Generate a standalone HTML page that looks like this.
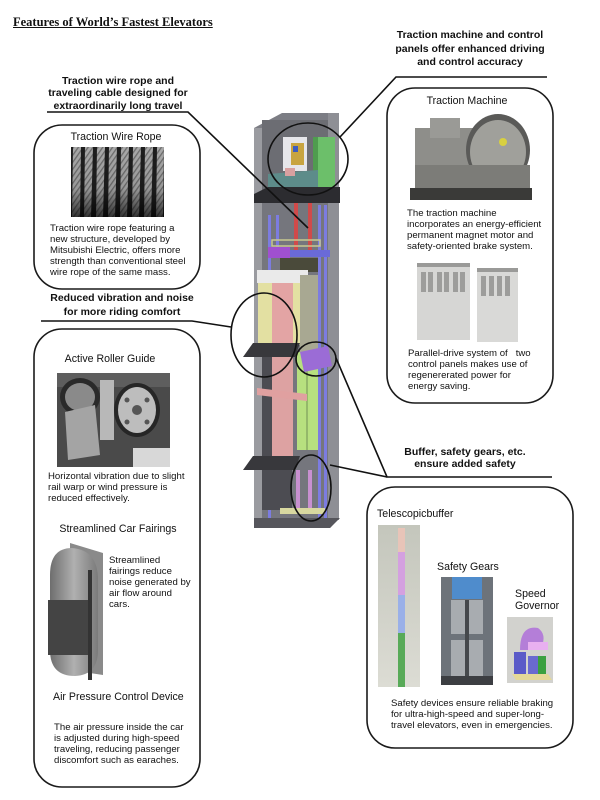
<!DOCTYPE html>
<html><head><meta charset="utf-8">
<style>
html,body{margin:0;padding:0;background:#fff;}
#w{position:relative;width:600px;height:800px;overflow:hidden;background:#fff;font-family:"Liberation Sans",Arial,sans-serif;color:#111;}
svg{position:absolute;left:0;top:0;}
.t{position:absolute;white-space:nowrap;}
.h{font-weight:bold;font-size:10.5px;text-align:center;width:200px;}
.bt{font-size:10.6px;line-height:14px;}
.b{font-size:9.6px;line-height:11px;}
</style></head><body><div id="w">
<svg width="600" height="800" viewBox="0 0 600 800">
<defs>
<linearGradient id="ropeShade" x1="0" y1="0" x2="0" y2="1"><stop offset="0" stop-color="#000" stop-opacity="0"/><stop offset="0.6" stop-color="#000" stop-opacity="0.1"/><stop offset="1" stop-color="#000" stop-opacity="0.7"/></linearGradient>
<linearGradient id="bufbg" x1="0" y1="0" x2="0" y2="1"><stop offset="0" stop-color="#c4c6bc"/><stop offset="1" stop-color="#dcdcd4"/></linearGradient>
<linearGradient id="fair" x1="0" y1="0" x2="1" y2="0"><stop offset="0" stop-color="#6e6e6e"/><stop offset="0.5" stop-color="#b0b0b0"/><stop offset="1" stop-color="#7a7a7a"/></linearGradient>
<pattern id="hatch" width="4" height="4" patternUnits="userSpaceOnUse" patternTransform="rotate(35)"><rect width="4" height="4" fill="#a8a8a8"/><rect width="1.3" height="4" fill="#6e6e6e"/></pattern>
</defs>

<!-- ===== elevator shaft ===== -->
<polygon points="254,128 282,113 339,113 339,518 330,528 254,528" fill="#7c7d84"/>
<rect x="254" y="128" width="8" height="392" fill="#9a9ba0"/>
<rect x="328" y="113" width="11" height="407" fill="#8e8f95"/>
<rect x="262" y="120" width="66" height="70" fill="#6c6d73"/>
<rect x="283" y="137" width="24" height="34" fill="#e6e6ea"/>
<rect x="291" y="143" width="13" height="22" fill="#c8a440"/>
<rect x="293" y="146" width="5" height="6" fill="#3c5cc0"/>
<rect x="313" y="137" width="22" height="55" fill="#6cbf6a"/>
<rect x="313" y="137" width="5" height="55" fill="#4f9c4f"/>
<polygon points="268,174 318,170 318,190 268,192" fill="#5d8c8a"/>
<rect x="285" y="168" width="10" height="8" fill="#d8a0a0"/>
<polygon points="254,194 268,187 340,187 340,203 254,203" fill="#2c2c30"/>
<rect x="262" y="203" width="66" height="315" fill="#75767d"/>
<rect x="294" y="203" width="4" height="47" fill="#d04a4a"/>
<rect x="308" y="203" width="4" height="47" fill="#d04a4a"/>
<rect x="268" y="215" width="3" height="303" fill="#7c7ce0"/>
<rect x="276" y="215" width="3" height="40" fill="#7c7ce0"/>
<rect x="318" y="205" width="3" height="313" fill="#7c7ce0"/>
<rect x="324" y="205" width="3" height="313" fill="#7c7ce0"/>
<rect x="272" y="240" width="48" height="6" fill="none" stroke="#c8c890" stroke-width="1.5"/>
<rect x="268" y="247" width="22" height="11" fill="#a050d0"/>
<rect x="290" y="250" width="40" height="7" fill="#6a6ad8"/>
<rect x="280" y="258" width="38" height="14" fill="#4a4a3a"/>
<polygon points="257,270 308,270 308,283 257,283" fill="#eaeaea"/>
<rect x="258" y="283" width="14" height="62" fill="#e3e0a2"/>
<rect x="272" y="283" width="21" height="64" fill="#e3a4a4"/>
<rect x="293" y="283" width="7" height="62" fill="#e3e0a2"/>
<rect x="300" y="275" width="18" height="77" fill="#a8a892"/>
<rect x="262" y="357" width="10" height="100" fill="#4c4c52"/>
<rect x="272" y="357" width="21" height="108" fill="#dda2a2"/>
<rect x="297" y="352" width="21" height="98" fill="#b7e07f"/>
<rect x="306" y="352" width="2" height="98" fill="#94b86a"/>
<polygon points="300,352 328,346 332,366 304,372" fill="#9b6cd6"/>
<polygon points="257,388 307,394 307,401 257,395" fill="#e0a0a0"/>
<polygon points="253,343 300,343 295,357 243,357" fill="#38383c"/>
<polygon points="253,456 300,456 295,470 243,470" fill="#38383c"/>
<rect x="262" y="470" width="30" height="40" fill="#4c4c52"/>
<rect x="296" y="470" width="4" height="40" fill="#c890d0"/>
<rect x="308" y="470" width="4" height="40" fill="#c890d0"/>
<rect x="280" y="508" width="45" height="6" fill="#d8d8a0"/>
<polygon points="254,518 340,518 330,528 254,528" fill="#56565c"/>

<!-- circles -->
<g fill="none" stroke="#111" stroke-width="1.6">
<ellipse cx="308" cy="159" rx="40" ry="36"/>
<ellipse cx="264" cy="335" rx="33" ry="42"/>
<ellipse cx="316" cy="359" rx="20" ry="17"/>
<ellipse cx="311" cy="488" rx="20" ry="33"/>
</g>
<!-- callout lines -->
<g fill="none" stroke="#111" stroke-width="1.6">
<polyline points="47,112 188,112 308,228"/>
<polyline points="547,77 396,77 340,137"/>
<polyline points="41,321 192,321 231,327"/>
<polyline points="552,477 387,477 336,358"/>
<line x1="387" y1="477" x2="330" y2="465"/>
</g>

<!-- boxes -->
<g fill="none" stroke="#1a1a1a" stroke-width="1.6">
<rect x="34" y="125" width="166" height="164" rx="28"/>
<rect x="34" y="329" width="166" height="458" rx="28"/>
<rect x="387" y="88" width="166" height="315" rx="28"/>
<rect x="367" y="487" width="206" height="261" rx="28"/>
</g>

<!-- wire rope image -->
<rect x="71" y="147" width="93" height="70" fill="#1e1e1e"/>
<g fill="url(#hatch)">
<polygon points="73,147 81,147 80,217 72,217"/>
<polygon points="85,147 93,147 91,217 84,217"/>
<polygon points="97,147 105,147 103,217 96,217"/>
<polygon points="109,147 117,147 115,217 108,217"/>
<polygon points="121,147 129,147 127,217 120,217"/>
<polygon points="133,147 141,147 139,217 132,217"/>
<polygon points="145,147 153,147 151,217 144,217"/>
<polygon points="157,147 164,147 163,217 156,217"/>
</g>
<rect x="71" y="147" width="93" height="70" fill="url(#ropeShade)"/>

<!-- roller guide image -->
<rect x="57" y="373" width="113" height="94" fill="#4a4a4a"/>
<rect x="57" y="373" width="113" height="14" fill="#5e5e5e"/>
<ellipse cx="80" cy="397" rx="20" ry="19" fill="#2a2a2a"/>
<ellipse cx="80" cy="397" rx="15" ry="14" fill="#8a8a8a"/>
<rect x="100" y="380" width="14" height="60" fill="#b8b8b8"/>
<ellipse cx="137" cy="410" rx="23" ry="27" fill="#262626"/>
<ellipse cx="137" cy="410" rx="19" ry="23" fill="#bdbdbd"/>
<circle cx="137" cy="410" r="5" fill="#555"/>
<circle cx="127" cy="400" r="2.5" fill="#555"/><circle cx="147" cy="400" r="2.5" fill="#555"/><circle cx="127" cy="422" r="2.5" fill="#555"/><circle cx="147" cy="422" r="2.5" fill="#555"/>
<polygon points="65,412 95,405 100,455 68,460" fill="#a4a4a4"/>
<rect x="133" y="448" width="37" height="19" fill="#d8d8d8"/>

<!-- fairing image -->
<polygon points="70,543 103,553 103,675 70,670" fill="#8a8a8a"/>
<path d="M50,575 Q50,548 72,548 Q98,550 98,580 L98,650 Q98,675 75,676 Q50,676 50,650 Z" fill="url(#fair)"/>
<rect x="48" y="600" width="44" height="55" fill="#444"/>
<rect x="88" y="570" width="4" height="110" fill="#333"/>

<!-- traction machine image -->
<rect x="415" y="128" width="60" height="62" fill="#8e8e8a"/>
<ellipse cx="498" cy="150" rx="32" ry="36" fill="#5a5a58"/>
<ellipse cx="498" cy="152" rx="28" ry="32" fill="#a0a09b"/>
<rect x="430" y="118" width="30" height="20" fill="#9a9a96"/>
<circle cx="503" cy="142" r="4" fill="#d8d040"/>
<rect x="415" y="165" width="115" height="24" fill="#7c7c78"/>
<rect x="410" y="188" width="122" height="12" fill="#3a3a38"/>

<!-- control panels image -->
<rect x="417" y="263" width="53" height="77" fill="#d6d6d4"/>
<rect x="417" y="263" width="53" height="4" fill="#9a9a98"/>
<g fill="#9d9d9b">
<rect x="421" y="272" width="5" height="20"/><rect x="428" y="272" width="5" height="20"/><rect x="437" y="272" width="5" height="20"/><rect x="444" y="272" width="5" height="20"/><rect x="453" y="272" width="5" height="20"/><rect x="460" y="272" width="5" height="20"/>
</g>
<rect x="477" y="268" width="41" height="74" fill="#d9d9d7"/>
<rect x="477" y="268" width="41" height="4" fill="#9a9a98"/>
<g fill="#9d9d9b">
<rect x="481" y="276" width="5" height="20"/><rect x="489" y="276" width="5" height="20"/><rect x="497" y="276" width="5" height="20"/><rect x="505" y="276" width="5" height="20"/>
</g>

<!-- buffer image -->
<rect x="378" y="525" width="42" height="162" fill="url(#bufbg)"/>
<rect x="398" y="528" width="7" height="24" fill="#e8c4b8"/>
<rect x="398" y="552" width="7" height="43" fill="#d4a0e0"/>
<rect x="398" y="595" width="7" height="38" fill="#9ab0e8"/>
<rect x="398" y="633" width="7" height="54" fill="#58aa58"/>

<!-- safety gears image -->
<rect x="441" y="577" width="52" height="108" fill="#6d737a"/>
<rect x="452" y="577" width="30" height="22" fill="#4f8ccc"/>
<rect x="451" y="600" width="32" height="34" fill="#a8acb0"/>
<rect x="451" y="640" width="32" height="36" fill="#a8acb0"/>
<rect x="465" y="600" width="4" height="76" fill="#45484c"/>
<rect x="441" y="676" width="52" height="9" fill="#3c3e42"/>

<!-- governor image -->
<rect x="507" y="617" width="46" height="66" fill="#d2d2ce"/>
<path d="M520,650 Q520,625 538,628 Q548,635 540,650 Z" fill="#b47ed8"/>
<rect x="528" y="642" width="20" height="8" fill="#e8b0f0"/>
<rect x="514" y="652" width="12" height="22" fill="#5a5ac8"/>
<rect x="528" y="656" width="10" height="18" fill="#6a6ad0"/>
<rect x="538" y="656" width="8" height="18" fill="#3aa040"/>
<polygon points="512,674 548,674 552,680 516,680" fill="#e4d898"/>
</svg>

<div class="t" style="left:13px;top:14px;font-family:'Liberation Serif',serif;font-weight:bold;font-size:12.5px;line-height:16px;text-decoration:underline;">Features of World’s Fastest Elevators</div>

<div class="t h" style="left:18px;top:75px;line-height:12.3px;">Traction wire rope and<br>traveling cable designed for<br>extraordinarily long travel</div>
<div class="t h" style="left:370px;top:29px;line-height:13.5px;">Traction machine and control<br>panels offer enhanced driving<br>and control accuracy</div>
<div class="t h" style="left:22px;top:292px;line-height:13.5px;">Reduced vibration and noise<br>for more riding comfort</div>
<div class="t h" style="left:365px;top:446px;line-height:12px;">Buffer, safety gears, etc.<br>ensure added safety</div>

<div class="t bt" style="left:16px;width:200px;text-align:center;top:130px;">Traction Wire Rope</div>
<div class="t b" style="left:50px;top:222.5px;">Traction wire rope featuring a<br>new structure, developed by<br>Mitsubishi Electric, offers more<br>strength than conventional steel<br>wire rope of the same mass.</div>

<div class="t bt" style="left:10px;width:200px;text-align:center;top:352px;">Active Roller Guide</div>
<div class="t b" style="left:48px;top:470.5px;">Horizontal vibration due to slight<br>rail warp or wind pressure is<br>reduced effectively.</div>
<div class="t bt" style="left:18px;width:200px;text-align:center;top:522px;">Streamlined Car Fairings</div>
<div class="t b" style="left:109px;top:554.5px;">Streamlined<br>fairings reduce<br>noise generated by<br>air flow around<br>cars.</div>
<div class="t bt" style="left:53px;top:690px;">Air Pressure Control Device</div>
<div class="t b" style="left:54px;top:721.5px;">The air pressure inside the car<br>is adjusted during high-speed<br>traveling, reducing passenger<br>discomfort such as earaches.</div>

<div class="t bt" style="left:367px;width:200px;text-align:center;top:94px;">Traction Machine</div>
<div class="t b" style="left:407px;top:207.5px;">The traction machine<br>incorporates an energy-efficient<br>permanent magnet motor and<br>safety-oriented brake system.</div>
<div class="t b" style="left:408px;top:347.5px;">Parallel-drive system of &nbsp;&nbsp;two<br>control panels makes use of<br>regenererated power for<br>energy saving.</div>

<div class="t bt" style="left:377px;top:507px;">Telescopicbuffer</div>
<div class="t bt" style="left:437px;top:560px;">Safety Gears</div>
<div class="t bt" style="left:515px;top:588px;line-height:12px;">Speed<br>Governor</div>
<div class="t b" style="left:391px;top:697.5px;">Safety devices ensure reliable braking<br>for ultra-high-speed and super-long-<br>travel elevators, even in emergencies.</div>
</div></body></html>
